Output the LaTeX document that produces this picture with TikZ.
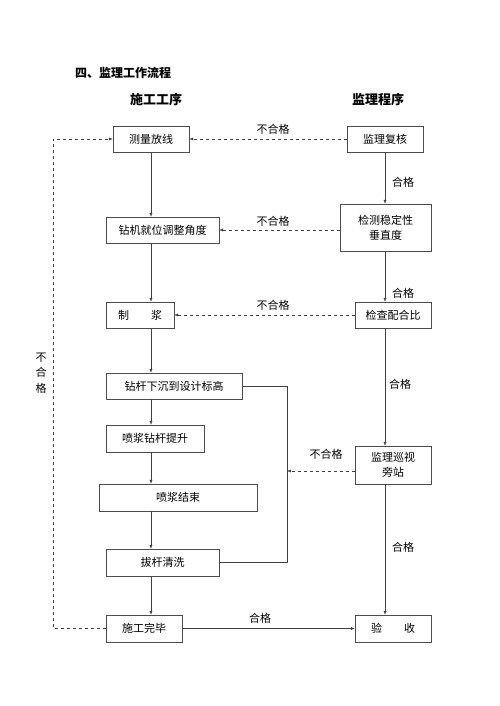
\documentclass[tikz,border=0pt]{standalone}
\usepackage{fontspec}
\setmainfont{Noto Sans CJK SC}
\usepackage{tikz}
\usetikzlibrary{arrows.meta, positioning}

\begin{document}
\begin{tikzpicture}[x=1pt, y=-1pt, >=latex]
		\tikzstyle{box} = [draw=black!70, rectangle, inner sep=0pt, minimum height=26pt, align=center, font=\fontsize{11}{15}\selectfont]
		\tikzstyle{invis} = [draw=none, inner sep=0pt, font=\fontsize{11}{15.5}\selectfont]
		\tikzstyle{head} = [draw=none, inner sep=0pt, font=\fontsize{13}{15}\selectfont\bfseries]
		\tikzstyle{arrow} = [draw=black!75, ->, >={Latex[length=4pt, width=3pt]}]
		\tikzstyle{dasharrow} = [arrow, dashed]
		\tikzstyle{line} = [draw=black!75]
		
		\useasboundingbox (0,0) rectangle (500,706);
		
		\node[invis, font=\fontsize{12}{14}\selectfont\bfseries] at (123, 73) (title) {四、监理工作流程};
		\node[head] at (156, 100) (sg) {施工工序};
		\node[head] at (378, 100) (jl) {监理程序};
		
		% left column
		\node[box, minimum width=76pt] 	at (151, 139) 	(cl) 	{测量放线};
		\node[box, minimum width=113pt] at (162.5, 230) (zj) 	{钻机就位调整角度};
		\node[box, minimum width=68pt] 	at (140, 315) 	(zb) 	{制\quad\quad 浆};
		\node[box, minimum width=136pt] at (174, 386) 	(xc) 	{钻杆下沉到设计标高};
		\node[box, minimum width=98pt, minimum height=27pt] 	at (155, 438.5) (ts) 	{喷浆钻杆提升};
		\node[box, minimum width=158pt, minimum height=27pt] 	at (178, 497.5) (js) 	{喷浆结束};
		\node[box, minimum width=113pt, minimum height=27pt] 	at (162.5, 562.5) (bg) 	{拔杆清洗};
		\node[box, minimum width=76pt, minimum height=27pt] 	at (144, 628.5) (wb) 	{施工完毕};
		
		% right column
		\node[box, minimum width=76pt] 	at (385, 139) 	(fh) 	{监理复核};
		\node[box, minimum width=91pt, minimum height=47pt] 	at (385.5, 227.5) (jc) 	{检测稳定性\\垂直度};
		\node[box, minimum width=76pt] 	at (393, 315) 	(pb) 	{检查配合比};
		\node[box, minimum width=76pt, minimum height=38pt] 	at (393, 465) 	(xs) 	{监理巡视\\旁站};
		\node[box, minimum width=76pt, minimum height=27pt] 	at (393, 628.5) (ys) 	{验\quad\quad 收};
		
		% labels
		\node[invis] at (273, 129) (n1) {不合格};
		\node[invis] at (273, 221) (n2) {不合格};
		\node[invis] at (273, 305) (n3) {不合格};
		\node[invis] at (326, 454) (n4) {不合格};
		\node[invis, align=center] at (41, 373) (n5) {不\\合\\格};
		\node[invis] at (403, 182) (h1) {合格};
		\node[invis] at (403, 293) (h2) {合格};
		\node[invis] at (400, 384) (h3) {合格};
		\node[invis] at (403, 547) (h4) {合格};
		\node[invis] at (260, 618) (h5) {合格};
		
		\coordinate (rt) at (287, 386);
		\coordinate (rb) at (287, 562.5);
		\coordinate (xa) at (287, 471);
		\coordinate (lb) at (53, 628.5);
		\coordinate (lt) at (53, 139);
		
		% solid flow
		\draw[arrow] (cl) -- (cl |- zj.north);
		\draw[arrow] (zj.south -| cl) -- (zb.north -| cl);
		\draw[arrow] (zb.south -| cl) -- (xc.north -| cl);
		\draw[arrow] (xc.south -| cl) -- (ts.north -| cl);
		\draw[arrow] (ts.south -| cl) -- (js.north -| cl);
		\draw[arrow] (js.south -| cl) -- (bg.north -| cl);
		\draw[arrow] (bg.south -| cl) -- (wb.north -| cl);
		\draw[line] (xc.east) -- (rt) -- (rb) -- (bg.east);
		
		\draw[arrow] (fh) -- (fh |- jc.north);
		\draw[arrow] (jc.south -| fh) -- (pb.north -| fh);
		\draw[arrow] (pb.south -| fh) -- (xs.north -| fh);
		\draw[arrow] (xs.south -| fh) -- (ys.north -| fh);
		\draw[arrow] (wb.east) -- (ys.west);
		
		% dashed returns
		\draw[dasharrow] (fh.west) -- (cl.east);
		\draw[dasharrow] (jc.west |- zj) -- (zj.east);
		\draw[dasharrow] (pb.west) -- (zb.east);
		\draw[dasharrow] (xs.west |- xa) -- (xa);
		\draw[dasharrow] (wb.west) -- (lb) -- (lt) -- (cl.west);
	\end{tikzpicture}
\end{document}
